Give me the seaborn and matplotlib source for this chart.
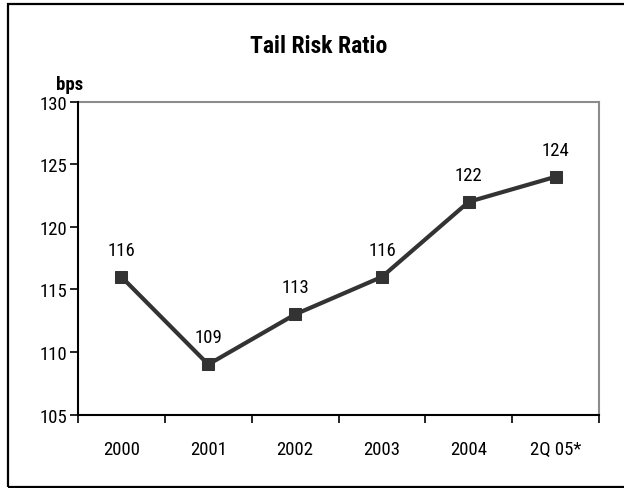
import matplotlib
matplotlib.use("Agg")
import matplotlib.pyplot as plt
from matplotlib.patches import Rectangle
import seaborn as sns
import pandas as pd
import numpy as np

categories = ["2000", "2001", "2002", "2003", "2004", "2Q 05*"]
values = [116, 109, 113, 116, 122, 124]
y_ticks = [105, 110, 115, 120, 125, 130]

sns.set_theme(style="white")
plt.rcParams["font.family"] = ["Roboto Condensed", "Archivo Narrow", "PT Sans Narrow",
                               "Sofia Sans Condensed", "Liberation Sans", "DejaVu Sans"]

df = pd.DataFrame({"pos": np.arange(len(categories)), "value": values})

fig = plt.figure(figsize=(6.24, 4.89), dpi=100)
ax = fig.add_axes([0.125, 0.1503, 0.835, 0.6397])

sns.lineplot(data=df, x="pos", y="value", ax=ax, color="#333333", linewidth=3,
             marker="s", markersize=8.6, markeredgecolor="#333333",
             markerfacecolor="#333333", zorder=3)

for x, v in zip(df["pos"], df["value"]):
    ax.annotate(str(v), (x, v), xytext=(0, 13), textcoords="offset points",
                ha="center", va="bottom", fontsize=13.5, color="black")

ax.set_xlim(-0.5, len(categories) - 0.5)
ax.set_ylim(105, 130)
ax.set_yticks(y_ticks)
ax.set_yticklabels([str(t) for t in y_ticks], fontsize=13.5, color="black")
ax.set_xticks(np.arange(len(categories)))
ax.set_xticklabels(categories, fontsize=13.5, color="black")
ax.set_xticks(np.arange(len(categories) + 1) - 0.5, minor=True)
ax.tick_params(axis="x", which="major", length=0, pad=18)
ax.tick_params(axis="x", which="minor", length=6, width=1.2, color="black",
               direction="out", bottom=True)
ax.tick_params(axis="y", length=6, width=1.2, color="black", direction="out",
               left=True, pad=2)
ax.set_xlabel("")
ax.set_ylabel("")

for side in ["left", "bottom"]:
    ax.spines[side].set_color("black")
    ax.spines[side].set_linewidth(1.5)
    ax.spines[side].set_zorder(4)
for side in ["top", "right"]:
    ax.spines[side].set_color("#8c8c8c")
    ax.spines[side].set_linewidth(1.5)

fig.text(0.51, 0.905, "Tail Risk Ratio", ha="center", va="center",
         fontsize=17, fontweight="bold", color="black")
fig.text(0.112, 0.826, "bps", ha="center", va="center",
         fontsize=13.5, fontweight="bold", color="black")

fig.patches.append(Rectangle((0.0128, 0.002), 1.1, 0.988, transform=fig.transFigure,
                             fill=False, edgecolor="black", linewidth=1.6,
                             clip_on=False))

fig.savefig("out.png", dpi=100)
